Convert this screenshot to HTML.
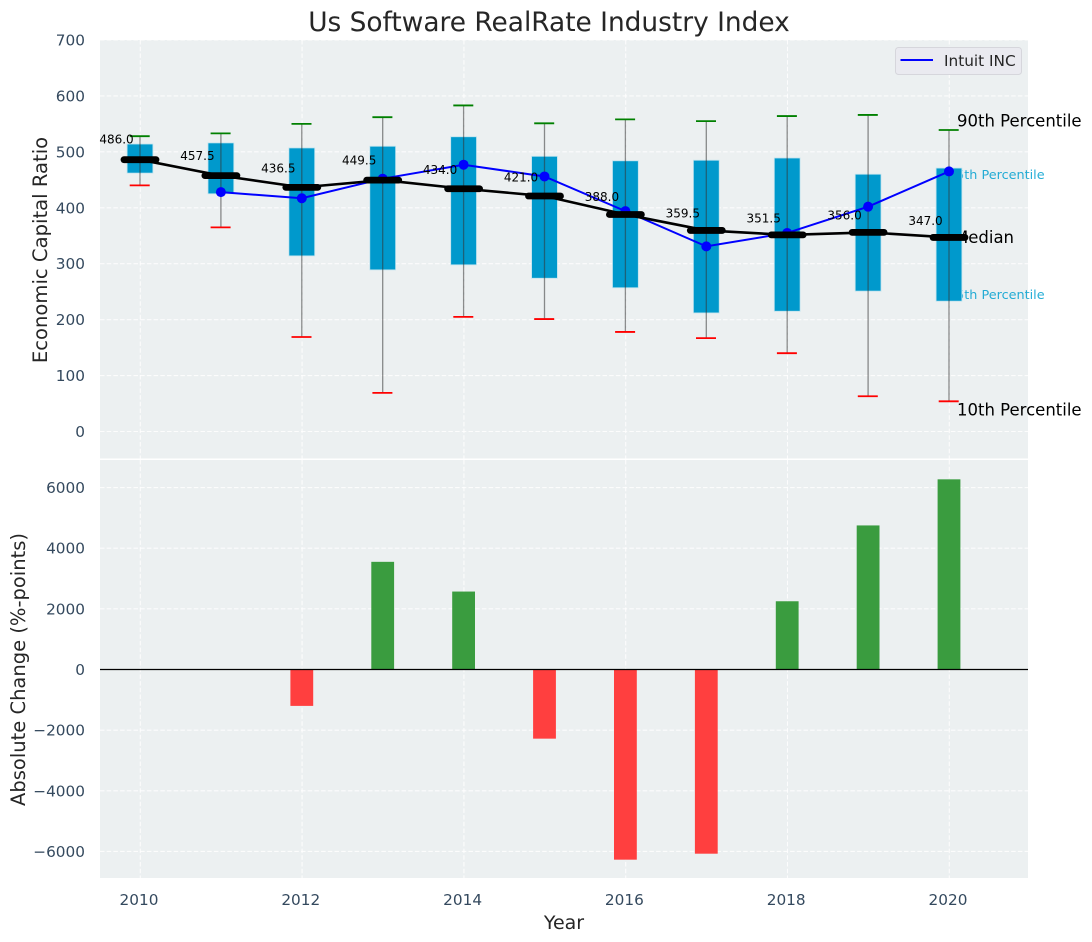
<!DOCTYPE html>
<html lang="en">
<head>
<meta charset="utf-8">
<title>Us Software RealRate Industry Index</title>
<style>
html,body{margin:0;padding:0;background:#fff;width:1092px;height:942px;overflow:hidden}
svg{display:block;font-family:"DejaVu Sans","Liberation Sans",sans-serif}
</style>
</head>
<body>
<svg id="chart" xmlns="http://www.w3.org/2000/svg" width="1092" height="942" viewBox="0 0 1092 942"></svg>
<script>
const years = [2010, 2011, 2012, 2013, 2014, 2015, 2016, 2017, 2018, 2019, 2020];
const p90 = [528, 533, 550, 562, 583, 551, 558, 555, 564, 566, 539];
const p75 = [514, 516, 507, 510, 527, 492, 484, 485, 489, 460, 471];
const medians = [486, 457.5, 436.5, 449.5, 434, 421, 388, 359.5, 351.5, 356, 347];
const p25 = [462, 425, 314, 289, 298, 274, 257, 212, 215, 251, 233];
const p10 = [440, 365, 169, 69, 205, 201, 178, 167, 140, 63, 54];
const intuit = [null, 428, 417, 452, 477, 456, 394, 331, 355, 402, 465];
const changes = [null, null, -1200, 3550, 2570, -2280, -6270, -6073, 2250, 4750, 6270];
const xTicks = [2010, 2012, 2014, 2016, 2018, 2020];
const topTicks = [0, 100, 200, 300, 400, 500, 600, 700];
const bottomTicks = [-6000, -4000, -2000, 0, 2000, 4000, 6000];

const svg = document.getElementById('chart');
const NS = 'http://www.w3.org/2000/svg';
const left = 100, right = 1028, topA = 40, topB = 458.5, botA = 460, botB = 878;
const xPos = function (v) { return 140 + (v - 2010) * 80.9; };
const yTop = function (v) { return 431.5 - v * 0.5593; };
const yBot = function (v) { return 669.5 - v * 0.03033; };

function make(tag, attrs, text) {
  const el = document.createElementNS(NS, tag);
  for (const k in attrs) el.setAttribute(k, attrs[k]);
  if (text !== undefined) el.textContent = text;
  svg.appendChild(el);
  return el;
}
function fmtTick(v) { return v < 0 ? '\u2212' + Math.abs(v) : String(v); }

let el;
el = make('rect', {x: left, y: topA, width: right - left, height: topB - topA, fill: '#ecf0f1'});


el = make('rect', {x: left, y: botA, width: right - left, height: botB - botA, fill: '#ecf0f1'});



const gridStyle = {stroke: '#ffffff', 'stroke-width': 1.1, 'stroke-dasharray': '4.5 2.2', opacity: 0.85};
xTicks.forEach(function (t) {
  el = make('line', Object.assign({x1: xPos(t) + 0.3, x2: xPos(t) + 0.3, y1: topA, y2: topB}, gridStyle));
  
  
  el = make('line', Object.assign({x1: xPos(t) + 0.3, x2: xPos(t) + 0.3, y1: botA, y2: botB}, gridStyle));
  
  
  el = make('text', {x: xPos(t) - 1, y: 905, 'text-anchor': 'middle', 'font-size': 15.3, fill: '#34495e'}, String(t));
  
  
});
topTicks.forEach(function (t) {
  el = make('line', Object.assign({x1: left, x2: right, y1: yTop(t), y2: yTop(t)}, gridStyle));
  
  
  el = make('text', {x: 85, y: yTop(t) + 5.5, 'text-anchor': 'end', 'font-size': 15.3, fill: '#34495e'}, fmtTick(t));
  
  
});
bottomTicks.forEach(function (t) {
  el = make('line', Object.assign({x1: left, x2: right, y1: yBot(t), y2: yBot(t)}, gridStyle));
  
  
  el = make('text', {x: 85, y: yBot(t) + 5.5, 'text-anchor': 'end', 'font-size': 15.3, fill: '#34495e'}, fmtTick(t));
  
  
});

const lastI = years.length - 1;
const lastX = xPos(years[lastI]);
el = make('text', {x: lastX + 8, y: yTop(p90[lastI]) - 3.5, 'font-size': 16.5, fill: '#000'}, '90th Percentile');


el = make('text', {x: lastX - 1, y: yTop(p75[lastI]) + 11, 'font-size': 12.8, fill: '#00a0d0', opacity: 0.85}, '75th Percentile');


el = make('text', {x: lastX + 5, y: yTop(medians[lastI]) + 5.5, 'font-size': 16.5, fill: '#000'}, 'Median');


el = make('text', {x: lastX - 1, y: yTop(p25[lastI]) - 2, 'font-size': 12.8, fill: '#00a0d0', opacity: 0.85}, '25th Percentile');


el = make('text', {x: lastX + 8, y: yTop(p10[lastI]) + 14, 'font-size': 16.5, fill: '#000'}, '10th Percentile');



years.forEach(function (yr, i) {
  const x = xPos(yr);
  el = make('rect', {x: x - 12.9, y: yTop(p75[i]), width: 25.8, height: yTop(p25[i]) - yTop(p75[i]), fill: '#0099cc', stroke: '#bfe3ee', 'stroke-width': 0.8});
  
  
  el = make('line', {x1: x, x2: x, y1: yTop(p90[i]), y2: yTop(p10[i]), stroke: '#333', 'stroke-opacity': 0.55, 'stroke-width': 1.3});
  
  
  el = make('line', {x1: x - 10.3, x2: x + 9.7, y1: yTop(p90[i]), y2: yTop(p90[i]), stroke: '#008000', 'stroke-width': 1.8});
  
  
  el = make('line', {x1: x - 10.3, x2: x + 9.7, y1: yTop(p10[i]), y2: yTop(p10[i]), stroke: '#ff0000', 'stroke-width': 1.8});
  
  
});

const intuitPts = [];
years.forEach(function (yr, i) {
  if (intuit[i] !== null) intuitPts.push(xPos(yr) + ',' + yTop(intuit[i]));
});
el = make('polyline', {points: intuitPts.join(' '), fill: 'none', stroke: '#0000ff', 'stroke-width': 2});


years.forEach(function (yr, i) {
  if (intuit[i] === null) return;
  el = make('circle', {cx: xPos(yr), cy: yTop(intuit[i]), r: 5, fill: '#0000ff'});
  
  
});

el = make('polyline', {points: years.map(function (yr, i) { return xPos(yr) + ',' + yTop(medians[i]); }).join(' '), fill: 'none', stroke: '#000', 'stroke-width': 2.6});


years.forEach(function (yr, i) {
  const x = xPos(yr), y = yTop(medians[i]);
  el = make('line', {x1: x - 16, x2: x + 16, y1: y, y2: y, stroke: '#000', 'stroke-width': 6.8, 'stroke-linecap': 'round'});
  
  
  el = make('text', {x: x - 23.5, y: yTop(medians[i] * 1.05) - 2.8, 'text-anchor': 'middle', 'font-size': 12, fill: '#000'}, medians[i].toFixed(1));
  
  
});

years.forEach(function (yr, i) {
  const v = changes[i];
  if (v === null) return;
  const a = yBot(Math.max(v, 0)), b = yBot(Math.min(v, 0));
  el = make('rect', {x: xPos(yr) - 11.4, y: a, width: 22.8, height: b - a, fill: v >= 0 ? '#3a9c3f' : '#ff3f3f'});
  
  
});
el = make('line', {x1: left, x2: right, y1: yBot(0), y2: yBot(0), stroke: '#000', 'stroke-width': 1.2});



el = make('rect', {x: 895.5, y: 47.5, width: 126, height: 27, rx: 3, fill: '#eaeaf0', stroke: '#d6d6dc', 'stroke-width': 1});


el = make('line', {x1: 900.5, x2: 933, y1: 60, y2: 60, stroke: '#0000ff', 'stroke-width': 2});


el = make('text', {x: 944, y: 66, 'font-size': 15.3, fill: '#262626'}, 'Intuit INC');



el = make('text', {x: 549, y: 31, 'text-anchor': 'middle', 'font-size': 26.4, fill: '#262626'}, 'Us Software RealRate Industry Index');


el = make('text', {x: 564, y: 929, 'text-anchor': 'middle', 'font-size': 19, fill: '#262626'}, 'Year');


el = make('text', {transform: 'translate(47 250) rotate(-90)', 'text-anchor': 'middle', 'font-size': 19.6, fill: '#262626'}, 'Economic Capital Ratio');


el = make('text', {transform: 'translate(25 669.5) rotate(-90)', 'text-anchor': 'middle', 'font-size': 19.5, fill: '#262626'}, 'Absolute Change (%-points)');


</script>
</body>
</html>
